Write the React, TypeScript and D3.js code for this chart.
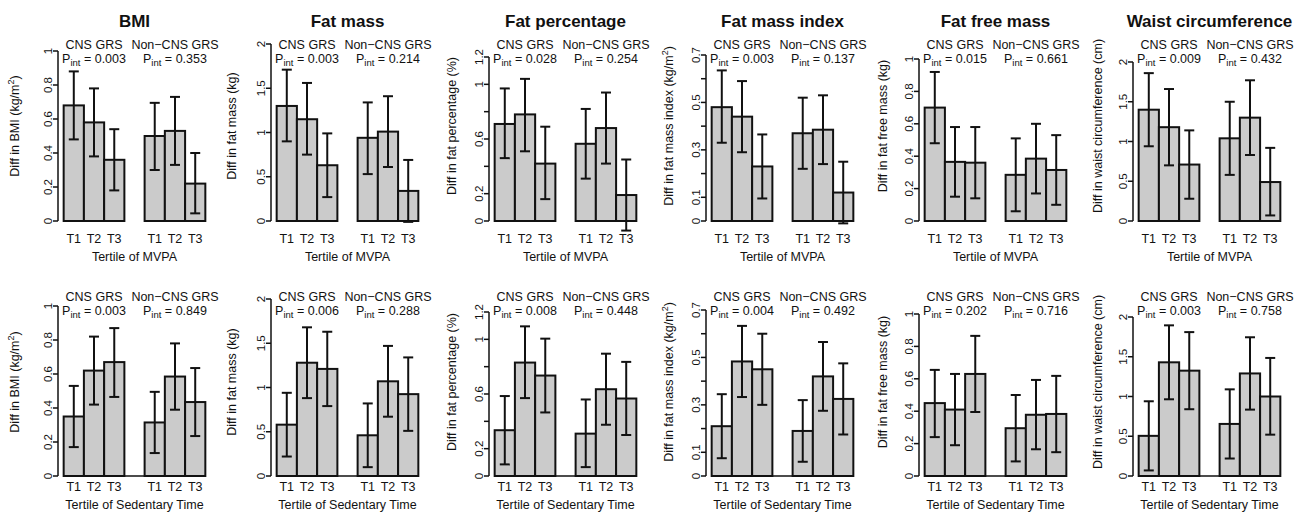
import React from "react";
import * as d3 from "d3";

// ---------- data ----------
const measures = ["BMI", "Fat mass", "Fat percentage", "Fat mass index", "Fat free mass", "Waist circumference"];
const yLabelMain = ["Diff in BMI (kg/m", "Diff in fat mass (kg)", "Diff in fat percentage (%)", "Diff in fat mass index (kg/m", "Diff in fat free mass (kg)", "Diff in waist circumference (cm)"];
const yLabelSup = ["2", "", "", "2", "", ""];
const yLabelEnd = [")", "", "", ")", "", ""];
const tertiles = ["T1", "T2", "T3"];
const groups = ["CNS GRS", "Non\u2212CNS GRS"];
const exposures = ["Tertile of MVPA", "Tertile of Sedentary Time"];

const yTicks = [
  [0, 0.2, 0.4, 0.6, 0.8, 1],
  [0, 0.5, 1, 1.5, 2],
  [0, 0.2, 0.4, 0.6, 0.8, 1, 1.2],
  [0, 0.1, 0.2, 0.3, 0.4, 0.5, 0.6, 0.7],
  [0, 0.2, 0.4, 0.6, 0.8, 1],
  [0, 0.5, 1, 1.5, 2],
];
const yTickLabels = [
  ["0", "0.2", "0.4", "0.6", "0.8", "1"],
  ["0", "0.5", "1", "1.5", "2"],
  ["0", "0.2", "", "0.6", "", "1", "1.2"],
  ["0", "0.1", "", "0.3", "", "0.5", "", "0.7"],
  ["0", "0.2", "0.4", "0.6", "0.8", "1"],
  ["0", "0.5", "1", "1.5", "2"],
];

// MVPA
const mvpaCnsEst = [[0.68, 0.58, 0.36], [1.30, 1.15, 0.63], [0.71, 0.78, 0.42], [0.48, 0.44, 0.23], [0.70, 0.365, 0.36], [1.40, 1.18, 0.71]];
const mvpaCnsLo = [[0.48, 0.38, 0.18], [0.90, 0.75, 0.27], [0.46, 0.51, 0.16], [0.33, 0.29, 0.095], [0.48, 0.15, 0.14], [0.94, 0.70, 0.28]];
const mvpaCnsHi = [[0.88, 0.78, 0.54], [1.71, 1.56, 0.99], [0.97, 1.04, 0.69], [0.635, 0.59, 0.365], [0.92, 0.58, 0.58], [1.86, 1.66, 1.14]];
const mvpaNonEst = [[0.50, 0.53, 0.22], [0.94, 1.01, 0.34], [0.565, 0.68, 0.19], [0.37, 0.385, 0.12], [0.285, 0.385, 0.315], [1.04, 1.30, 0.49]];
const mvpaNonLo = [[0.30, 0.33, 0.045], [0.53, 0.61, -0.01], [0.31, 0.42, -0.07], [0.22, 0.24, -0.01], [0.06, 0.17, 0.10], [0.58, 0.83, 0.07]];
const mvpaNonHi = [[0.695, 0.73, 0.40], [1.34, 1.41, 0.69], [0.82, 0.94, 0.45], [0.52, 0.53, 0.25], [0.51, 0.60, 0.53], [1.50, 1.77, 0.92]];
const mvpaPCns = ["0.003", "0.003", "0.028", "0.003", "0.015", "0.009"];
const mvpaPNon = ["0.353", "0.214", "0.254", "0.137", "0.661", "0.432"];

// Sedentary time
const sedCnsEst = [[0.35, 0.62, 0.67], [0.58, 1.28, 1.21], [0.335, 0.83, 0.735], [0.21, 0.483, 0.45], [0.45, 0.41, 0.63], [0.505, 1.43, 1.325]];
const sedCnsLo = [[0.17, 0.42, 0.465], [0.22, 0.88, 0.79], [0.085, 0.57, 0.465], [0.075, 0.333, 0.30], [0.24, 0.19, 0.395], [0.07, 0.965, 0.84]];
const sedCnsHi = [[0.53, 0.82, 0.87], [0.94, 1.68, 1.63], [0.585, 1.095, 1.005], [0.345, 0.633, 0.60], [0.655, 0.63, 0.865], [0.94, 1.895, 1.81]];
const sedNonEst = [[0.315, 0.585, 0.435], [0.46, 1.07, 0.925], [0.31, 0.635, 0.567], [0.19, 0.42, 0.325], [0.295, 0.378, 0.383], [0.655, 1.29, 1.0]];
const sedNonLo = [[0.135, 0.39, 0.235], [0.10, 0.67, 0.51], [0.065, 0.375, 0.30], [0.06, 0.275, 0.175], [0.09, 0.165, 0.147], [0.22, 0.835, 0.52]];
const sedNonHi = [[0.495, 0.78, 0.635], [0.82, 1.47, 1.34], [0.56, 0.895, 0.835], [0.32, 0.565, 0.475], [0.50, 0.593, 0.618], [1.09, 1.745, 1.485]];
const sedPCns = ["0.003", "0.006", "0.008", "0.004", "0.202", "0.003"];
const sedPNon = ["0.849", "0.288", "0.448", "0.492", "0.716", "0.758"];

// ---------- layout ----------
const W = 1306;
const H = 512;
const FONT = "'Liberation Sans', Arial, Helvetica, sans-serif";
const colAxisX = [58, 271, 489, 706, 919, 1133];
const colYLabX = [19, 236, 456, 673, 887, 1102];
const colAxisLen = [170, 177, 164, 166, 162, 159];
const PLOT_W = 153;

const rows = [
  {
    zeroY: 221, groupY: 49, pY: 63, tickLabY: 243, xTitleY: 261, yLabMid: 126, baseLine: false, showTitle: true,
    est: [mvpaCnsEst, mvpaNonEst], lo: [mvpaCnsLo, mvpaNonLo], hi: [mvpaCnsHi, mvpaNonHi], p: [mvpaPCns, mvpaPNon],
  },
  {
    zeroY: 476, groupY: 301, pY: 315, tickLabY: 491, xTitleY: 509, yLabMid: 382, baseLine: true, showTitle: false,
    est: [sedCnsEst, sedNonEst], lo: [sedCnsLo, sedNonLo], hi: [sedCnsHi, sedNonHi], p: [sedPCns, sedPNon],
  },
];

function Panel({ row, ri, ci }: { row: any; ri: number; ci: number }) {
  const ax = colAxisX[ci];
  const ticks = yTicks[ci];
  const topVal = ticks[ticks.length - 1];
  const y = d3.scaleLinear().domain([0, topVal]).range([row.zeroY, row.zeroY - colAxisLen[ci]]);
  const x = d3.scaleLinear().domain([0.72, 8.28]).range([ax, ax + PLOT_W]);
  const bars: any[] = [];
  [0, 1].forEach((g) => {
    tertiles.forEach((t, ti) => {
      const left = 1 + g * 4 + ti;
      bars.push({
        g, ti, t, left,
        est: row.est[g][ci][ti], lo: row.lo[g][ci][ti], hi: row.hi[g][ci][ti],
      });
    });
  });
  const bw = x(1) - x(0);
  const cx = ax + PLOT_W / 2;
  return (
    <g>
      {row.showTitle && (
        <text x={cx} y={27} textAnchor="middle" fontSize={17} fontWeight="bold">{measures[ci]}</text>
      )}
      {/* y axis */}
      <line x1={ax} x2={ax} y1={y(0)} y2={y(topVal)} stroke="#111" strokeWidth={1.5} />
      {ticks.map((v, i) => (
        <g key={i}>
          <line x1={ax - 5} x2={ax} y1={y(v)} y2={y(v)} stroke="#111" strokeWidth={1.5} />
          {yTickLabels[ci][i] && (
            <text transform={`translate(${ax - 6},${y(v)}) rotate(-90)`} textAnchor="middle" fontSize={11.5}>
              {yTickLabels[ci][i]}
            </text>
          )}
        </g>
      ))}
      <text transform={`translate(${colYLabX[ci]},${row.yLabMid}) rotate(-90)`} textAnchor="middle" fontSize={12.5}>
        {yLabelMain[ci]}
        {yLabelSup[ci] && (
          <tspan dy={-5} fontSize={9}>{yLabelSup[ci]}</tspan>
        )}
        {yLabelEnd[ci] && <tspan dy={yLabelSup[ci] ? 5 : 0}>{yLabelEnd[ci]}</tspan>}
      </text>
      {row.baseLine && (
        <line x1={x(1)} x2={x(8)} y1={y(0)} y2={y(0)} stroke="#111" strokeWidth={1.5} />
      )}
      {bars.map((b, i) => (
        <rect key={i} x={x(b.left)} y={y(b.est)} width={bw} height={y(0) - y(b.est)}
          fill="#cbcbcb" stroke="#111" strokeWidth={2} />
      ))}
      {bars.map((b, i) => {
        const mx = x(b.left + 0.5);
        return (
          <g key={"e" + i} stroke="#111" strokeWidth={2}>
            <line x1={mx} x2={mx} y1={y(b.lo)} y2={y(b.hi)} />
            <line x1={mx - 5} x2={mx + 5} y1={y(b.lo)} y2={y(b.lo)} />
            <line x1={mx - 5} x2={mx + 5} y1={y(b.hi)} y2={y(b.hi)} />
          </g>
        );
      })}
      {bars.map((b, i) => (
        <text key={"t" + i} x={x(b.left + 0.5)} y={row.tickLabY} textAnchor="middle" fontSize={12.5}>{b.t}</text>
      ))}
      {[0, 1].map((g) => {
        const gx = x(2.5 + g * 4);
        return (
          <g key={"g" + g}>
            <text x={gx} y={row.groupY} textAnchor="middle" fontSize={12.5}>{groups[g]}</text>
            <text x={gx} y={row.pY} textAnchor="middle" fontSize={12.5}>
              P<tspan dy={3} fontSize={9.5}>int</tspan>
              <tspan dy={-3}>{" = " + row.p[g][ci]}</tspan>
            </text>
          </g>
        );
      })}
      <text x={cx} y={row.xTitleY} textAnchor="middle" fontSize={12.5}>{exposures[ri]}</text>
    </g>
  );
}

export default function App() {
  return (
    <svg width={W} height={H} viewBox={`0 0 ${W} ${H}`}
      style={{ position: "absolute", left: 0, top: 0, display: "block", background: "#fff" }}
      fontFamily={FONT} fill="#111">
      <rect x={0} y={0} width={W} height={H} fill="#fff" />
      {rows.map((row, ri) =>
        measures.map((m, ci) => <Panel key={ri + "-" + ci} row={row} ri={ri} ci={ci} />)
      )}
    </svg>
  );
}
